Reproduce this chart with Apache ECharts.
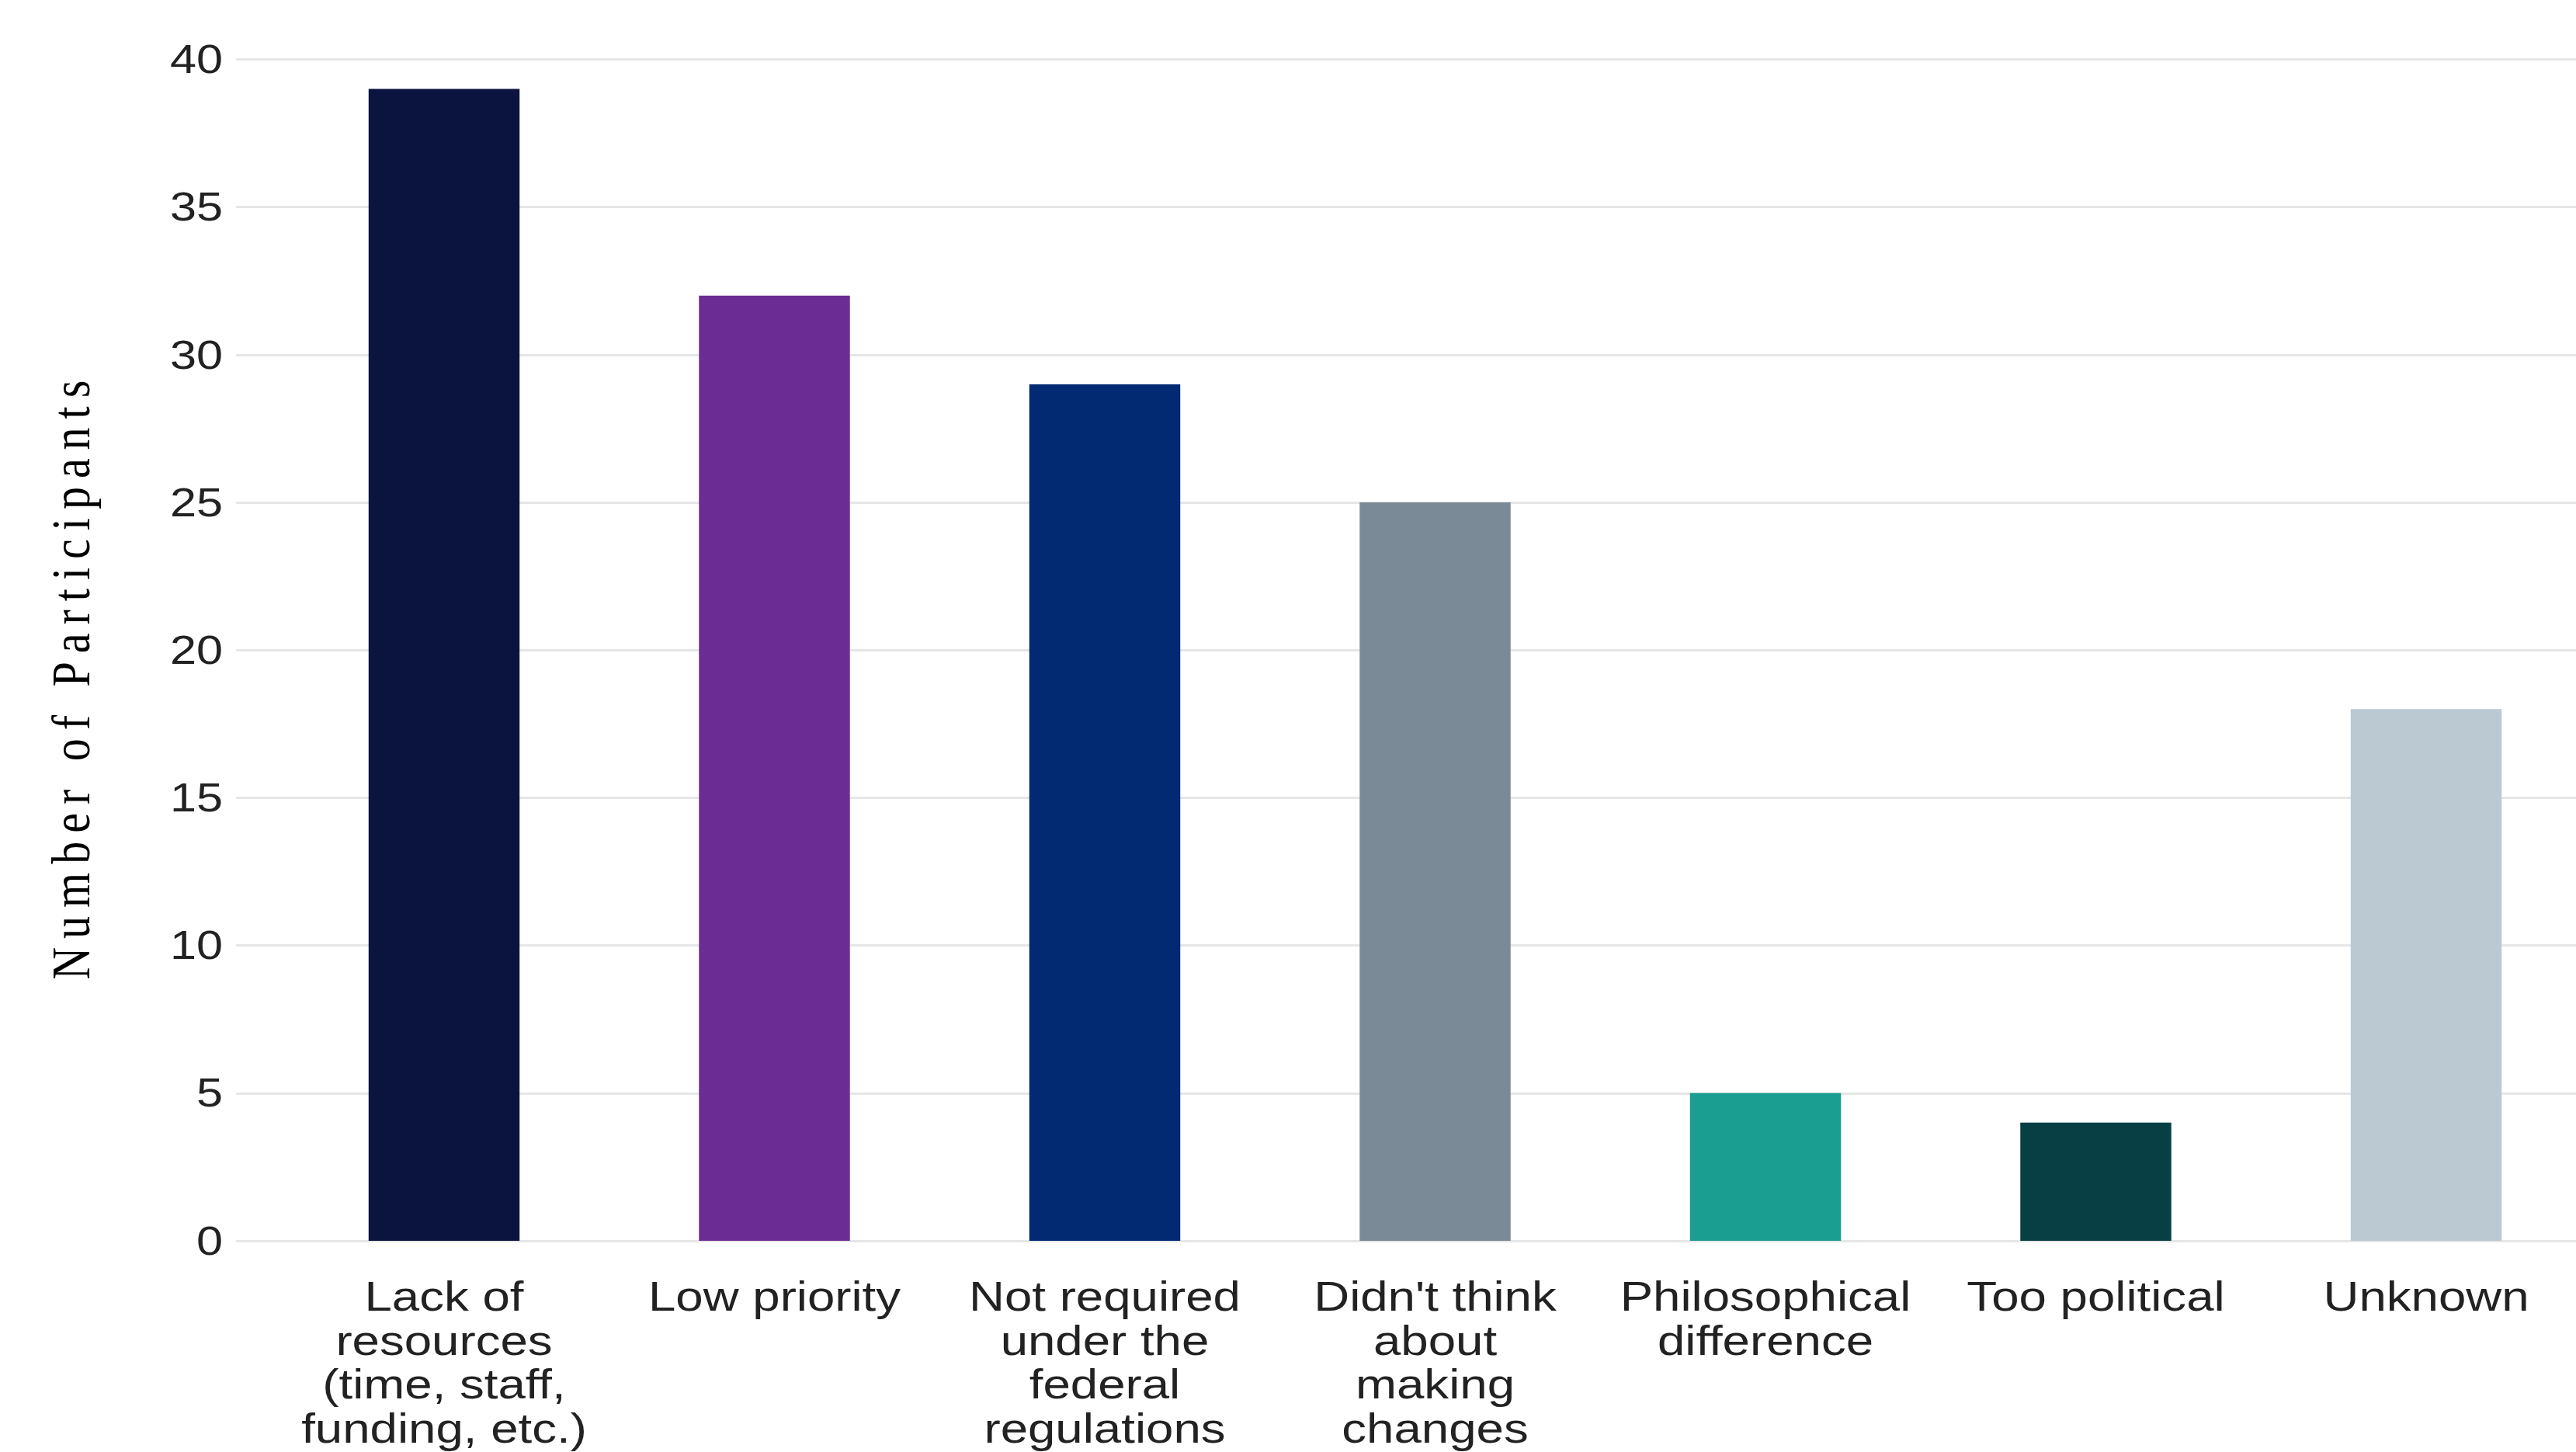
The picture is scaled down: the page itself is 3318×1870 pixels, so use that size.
<!DOCTYPE html>
<html>
<head>
<meta charset="utf-8">
<script src="https://cdn.jsdelivr.net/npm/echarts@6/dist/echarts.min.js"></script>
<style>
  html, body { margin: 0; padding: 0; background: #ffffff; overflow: hidden; }
  #chart { position: absolute; left: 0; top: 0; transform-origin: 0 0; }
</style>
</head>
<body>
<div id="chart"></div>
<script>
// Reasons given by participants
const categories = [
  'Lack of\nresources\n(time, staff,\nfunding, etc.)',
  'Low priority',
  'Not required\nunder the\nfederal\nregulations',
  "Didn't think\nabout\nmaking\nchanges",
  'Philosophical\ndifference',
  'Too political',
  'Unknown'
];
const participants = [39, 32, 29, 25, 5, 4, 18];
const barColors = ['#0a143f', '#6b2d93', '#022a73', '#7b8a97', '#1a9e91', '#073f44', '#bbc9d3'];
const yTicks = { min: 0, max: 40, interval: 5 };
const yTitle = 'Number of Participants';

// The figure is drawn with a horizontally widened type face: the chart is
// laid out at a narrower width and then stretched along x.
const SX = 1.2;
const PAGE_W = 3318, PAGE_H = 1870;
const el = document.getElementById('chart');
el.style.width = (PAGE_W / SX) + 'px';
el.style.height = PAGE_H + 'px';
el.style.transform = 'scaleX(' + SX + ')';

const chart = echarts.init(el, null, { renderer: 'svg', width: PAGE_W / SX, height: PAGE_H });

const plotTop = 76.5, plotBottom = 272;
const sansFont = '"Liberation Sans", Arial, Helvetica, sans-serif';

chart.setOption({
  animation: false,
  backgroundColor: '#ffffff',
  grid: [
    // panel carrying the gridlines and value labels
    { left: 304 / SX, right: 0, top: plotTop, bottom: plotBottom, containLabel: false, outerBoundsMode: 'none' },
    // panel carrying the bars (its right end runs past the page edge)
    { left: 359.25 / SX, right: -19.75 / SX, top: plotTop, bottom: plotBottom, containLabel: false, outerBoundsMode: 'none' }
  ],
  xAxis: [
    { gridIndex: 0, type: 'value', min: 0, max: 1, show: false },
    {
      gridIndex: 1,
      type: 'category',
      data: categories,
      axisLine: { show: false },
      axisTick: { show: false },
      splitLine: { show: false },
      axisLabel: {
        interval: 0,
        margin: 43,
        color: '#222222',
        fontFamily: sansFont,
        fontSize: 53,
        lineHeight: 56.7,
        align: 'center'
      }
    }
  ],
  yAxis: [
    {
      gridIndex: 0,
      type: 'value',
      min: yTicks.min,
      max: yTicks.max,
      interval: yTicks.interval,
      axisLine: { show: false },
      axisTick: { show: false },
      axisLabel: {
        margin: 17 / SX,
        color: '#222222',
        fontFamily: sansFont,
        fontSize: 51
      },
      splitLine: { show: true, lineStyle: { color: '#e6e6e6', width: 3 } },
      name: yTitle,
      nameLocation: 'middle',
      nameRotate: 90,
      nameGap: 148,
      nameTextStyle: {
        fontFamily: '"Liberation Serif", "Times New Roman", serif',
        fontSize: 58,
        color: '#000000',
        padding: [0, 66, 0, 0]
      }
    },
    {
      gridIndex: 1,
      type: 'value',
      min: yTicks.min,
      max: yTicks.max,
      interval: yTicks.interval,
      show: false
    }
  ],
  series: [{
    type: 'bar',
    xAxisIndex: 1,
    yAxisIndex: 1,
    barWidth: '45.7%',
    data: participants.map((v, i) => ({ value: v, itemStyle: { color: barColors[i] } })),
    z: 5
  }]
});

// spaced-out lettering for the axis title
function spaceTitle() {
  el.querySelectorAll('text').forEach(t => {
    if (t.textContent === yTitle) t.setAttribute('letter-spacing', '11');
  });
}
spaceTitle();
chart.on('finished', spaceTitle);
setTimeout(spaceTitle, 50);
</script>
</body>
</html>
